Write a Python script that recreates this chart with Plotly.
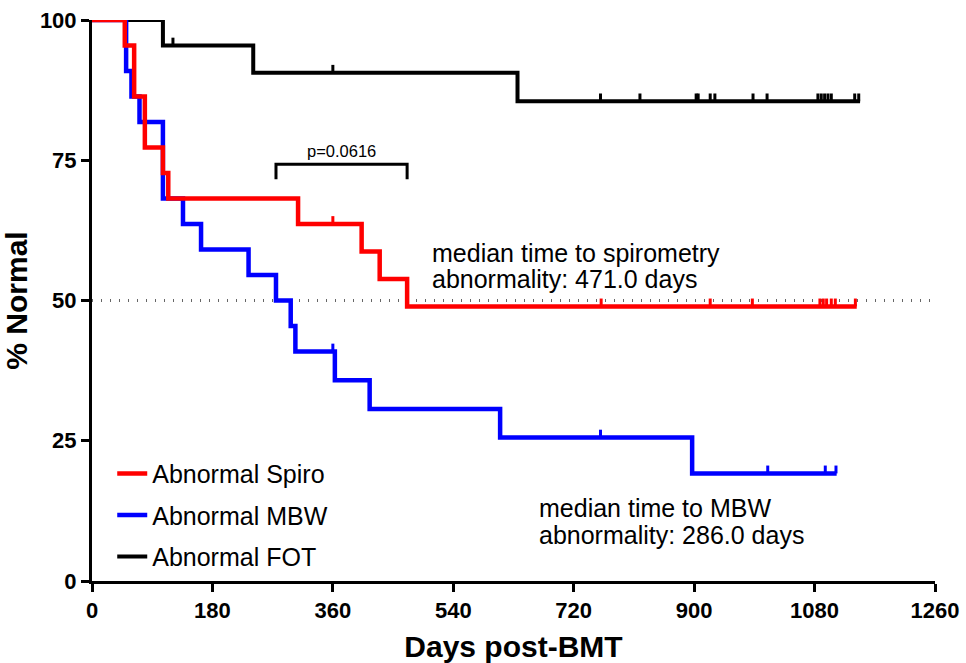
import plotly.graph_objects as go

# ---------------- data ----------------
x_ticks = [0, 180, 360, 540, 720, 900, 1080, 1260]
y_ticks = [0, 25, 50, 75, 100]

series_names = ["Abnormal Spiro", "Abnormal MBW", "Abnormal FOT"]
series_colors = ["#ff0000", "#0000ff", "#000000"]

spiro_times = [49, 63, 79, 106, 114, 308, 403, 430, 471]
spiro_surv = [95.45, 86.36, 77.27, 72.73, 68.18, 63.64, 58.74, 53.85, 48.95]
spiro_censor = [360, 761, 924, 987, 1088, 1093, 1098, 1105, 1111, 1141]
spiro_end = 1143

mbw_times = [51, 59, 71, 106, 136, 163, 234, 275, 297, 304, 363, 415, 610, 897]
mbw_surv = [90.91, 86.36, 81.82, 68.18, 63.64, 59.09, 54.55, 50.0, 45.45, 40.91,
            35.80, 30.68, 25.57, 19.18]
mbw_censor = [360, 760, 1010, 1096, 1112]
mbw_end = 1113

fot_times = [106, 241, 636]
fot_surv = [95.45, 90.6, 85.5]
fot_censor = [121, 360, 760, 819, 903, 906, 924, 931, 988, 1009,
              1085, 1090, 1095, 1100, 1105, 1140, 1146]
fot_end = 1148

median_level = 50
p_text = "p=0.0616"
p_bracket_x = [275, 471]
p_bracket_y = [71.6, 74.3]

spiro_note = ["median time to spirometry", "abnormality: 471.0 days"]
mbw_note = ["median time to MBW", "abnormality: 286.0 days"]

FONT = "Liberation Sans, Arial, sans-serif"


def km_xy(times, surv, end):
    return [0] + list(times) + [end], [100] + list(surv) + [surv[-1]]


def surv_at(t, times, surv):
    s = 100
    for ti, si in zip(times, surv):
        if ti <= t:
            s = si
    return s


def censor_xy(censor, times, surv, h=1.4):
    xs, ys = [], []
    for c in censor:
        s = surv_at(c, times, surv)
        xs += [c, c, None]
        ys += [s, s + h, None]
    return xs, ys


groups = [
    (spiro_times, spiro_surv, spiro_censor, spiro_end, 4.5),
    (mbw_times, mbw_surv, mbw_censor, mbw_end, 4.5),
    (fot_times, fot_surv, fot_censor, fot_end, 4),
]

fig = go.Figure()

# draw black first, red last (on top)
for idx in [2, 1, 0]:
    times, surv, cens, end, w = groups[idx]
    xs, ys = km_xy(times, surv, end)
    fig.add_trace(go.Scatter(
        x=xs, y=ys, mode="lines", line=dict(color=series_colors[idx], width=w, shape="hv"),
        name=series_names[idx], legendgroup=series_names[idx], legendrank=idx + 1,
        cliponaxis=False, hoverinfo="skip"))
    cx, cy = censor_xy(cens, times, surv)
    fig.add_trace(go.Scatter(
        x=cx, y=cy, mode="lines", line=dict(color=series_colors[idx], width=3),
        showlegend=False, cliponaxis=False, hoverinfo="skip"))

# dotted median line
fig.add_shape(type="line", xref="x", yref="y", x0=x_ticks[0], x1=x_ticks[-1],
              y0=median_level, y1=median_level,
              line=dict(color="#666666", width=3, dash="1px,8px"), layer="below")

# p-value bracket
fig.add_shape(type="path", xref="x", yref="y",
              path=(f"M {p_bracket_x[0]},{p_bracket_y[0]} L {p_bracket_x[0]},{p_bracket_y[1]} "
                    f"L {p_bracket_x[1]},{p_bracket_y[1]} L {p_bracket_x[1]},{p_bracket_y[0]}"),
              line=dict(color="black", width=3))
fig.add_annotation(x=sum(p_bracket_x) / 2, y=p_bracket_y[1] + 2.4, text=p_text,
                   showarrow=False, font=dict(family=FONT, size=16.5, color="black"),
                   xanchor="center", yanchor="middle")

# median notes
for i, line in enumerate(spiro_note):
    fig.add_annotation(x=505, y=58.5 - i * 4.75, text=line, showarrow=False,
                       xanchor="left", yanchor="middle",
                       font=dict(family=FONT, size=25, color="black"))
for i, line in enumerate(mbw_note):
    fig.add_annotation(x=665, y=13.0 - i * 4.75, text=line, showarrow=False,
                       xanchor="left", yanchor="middle",
                       font=dict(family=FONT, size=25, color="black"))

axis_common = dict(showline=True, linewidth=3, linecolor="black", ticks="outside",
                   ticklen=8, tickwidth=3, tickcolor="black", showgrid=False,
                   zeroline=False, automargin=False, ticklabeloverflow="allow")

fig.update_layout(
    width=966, height=663,
    margin=dict(l=92, r=31, t=20, b=82),
    paper_bgcolor="white", plot_bgcolor="white",
    font=dict(family=FONT, color="black"),
    showlegend=True,
    legend=dict(x=0.024, y=0.232, xanchor="left", yanchor="top",
                font=dict(family=FONT, size=25, color="black"),
                tracegroupgap=6, itemwidth=30, bgcolor="rgba(0,0,0,0)"),
    xaxis=dict(range=[x_ticks[0], x_ticks[-1]], tickvals=x_ticks,
               ticktext=[str(v) for v in x_ticks],
               tickfont=dict(family=FONT, size=22, weight="bold"),
               title=dict(text="Days post-BMT", standoff=14,
                          font=dict(family=FONT, size=30, weight="bold")),
               **axis_common),
    yaxis=dict(range=[y_ticks[0], y_ticks[-1]], tickvals=y_ticks,
               ticktext=[str(v) for v in y_ticks],
               tickfont=dict(family=FONT, size=22, weight="bold"),
               title=dict(text="% Normal", standoff=6,
                          font=dict(family=FONT, size=30, weight="bold")),
               **axis_common),
)

# remove the page's default body margin so the figure fills the window exactly
fig.write_html("out.html", config={"displayModeBar": False},
               post_script="document.body.style.margin='0px';")
